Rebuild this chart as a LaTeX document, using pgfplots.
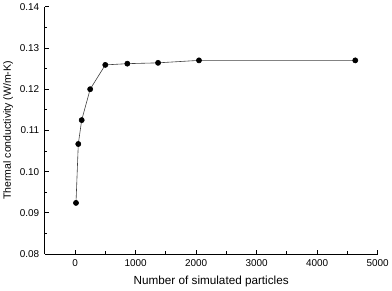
\documentclass[border=0pt]{standalone}
\usepackage{fontspec}
\setmainfont{Liberation Sans}
\usepackage{pgfplots}
\pgfplotsset{compat=1.18}
\begin{document}
\begin{tikzpicture}
\begin{axis}[
  scale only axis,
  width=334bp, height=248bp,
  xmin=-500, xmax=5000,
  ymin=0.08, ymax=0.14,
  axis x line*=bottom, axis y line*=left,
  axis line style={-, line width=0.8pt},
  xtick={0,1000,2000,3000,4000,5000},
  minor xtick={500,1500,2500,3500,4500},
  ytick={0.08,0.09,0.10,0.11,0.12,0.13,0.14},
  minor ytick={0.085,0.095,0.105,0.115,0.125,0.135},
  yticklabel style={xshift=-2bp, /pgf/number format/.cd, fixed, fixed zerofill, precision=2},
  scaled y ticks=false,
  xticklabel style={yshift=-2.5bp, /pgf/number format/.cd, 1000 sep={}},
  /pgf/number format/assume math mode=true,
  tick align=inside,
  major tick length=4bp, minor tick length=2.5bp,
  tick style={line width=0.8pt, black},
  ticklabel style={font=\fontsize{10}{12}\selectfont},
  xlabel={Number of simulated particles},
  ylabel={Thermal conductivity (W/m-K)},
  xlabel style={font=\fontsize{11.8}{13}\selectfont, yshift=-2bp},
  ylabel style={font=\fontsize{10.6}{12}\selectfont, yshift=0bp},
]
\addplot[line width=0.6pt, color=black!75, mark=*, mark size=2.6pt, mark options={fill=black, draw=black}]
coordinates {
(16,0.0924) (54,0.1067) (110,0.1125) (250,0.1200) (500,0.1259)
(864,0.1262) (1372,0.1264) (2048,0.1270) (4630,0.1270)
};
\end{axis}
\end{tikzpicture}
\end{document}
